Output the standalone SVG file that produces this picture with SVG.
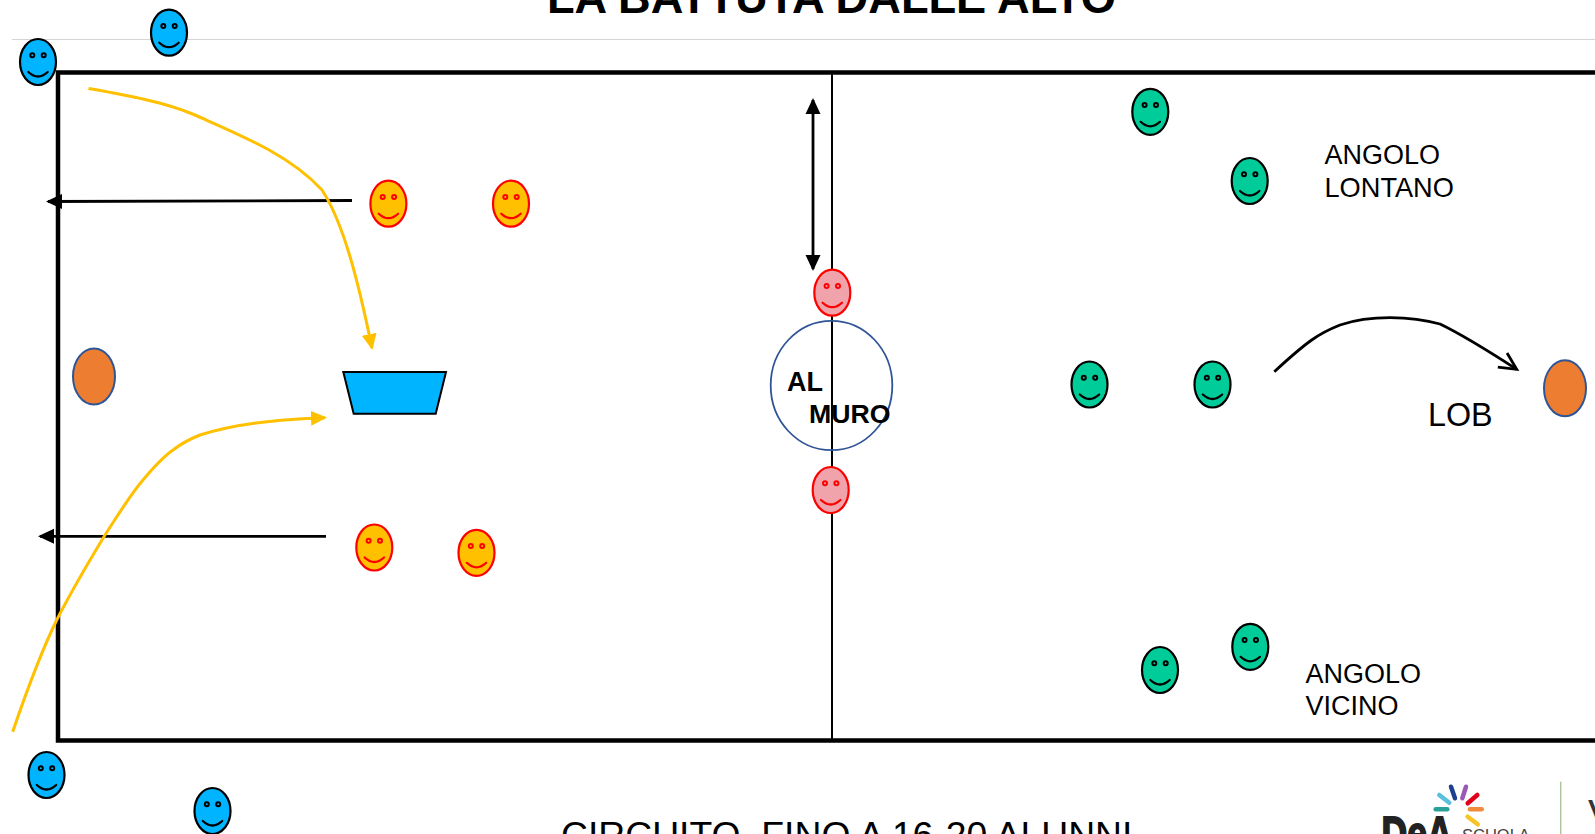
<svg xmlns="http://www.w3.org/2000/svg" width="1595" height="834" viewBox="0 0 1595 834">
<style>
text{font-family:"Liberation Sans",Arial,sans-serif;fill:#000}
.b{font-weight:700}
.lab{font-size:27px}
.face{stroke-width:2.2}
.eye{stroke-width:2}
.smile{fill:none;stroke-width:2.2;stroke-linecap:round}
.blue{fill:#00B4FF;stroke:#000}
.gold{fill:#FFC000;stroke:#F00}
.pink{fill:#F0A3AA;stroke:#F00}
.green{fill:#00CC99;stroke:#000}
.ball{fill:#ED7D31;stroke:#2F5597;stroke-width:2}
.k{fill:none;stroke:#000;stroke-width:2.8}
.y{fill:none;stroke:#FFC000;stroke-width:3}
.ray{fill:none;stroke-width:4.5;stroke-linecap:round}
</style>
<defs>
<g id="smiley">
<ellipse class="face" cx="0" cy="0" rx="18" ry="23"/>
<circle class="eye" cx="-5.7" cy="-6.8" r="2"/>
<circle class="eye" cx="5.7" cy="-6.8" r="2"/>
<path class="smile" d="M-9.7 10Q0 19 9.7 10"/>
</g>
<marker id="ak" markerUnits="userSpaceOnUse" markerWidth="18" markerHeight="16" refX="14" refY="8" orient="auto-start-reverse"><path d="M0 .5L16 8L0 15.500Z" fill="#000"/></marker>
<marker id="ay" markerUnits="userSpaceOnUse" markerWidth="18" markerHeight="16" refX="14" refY="8" orient="auto"><path d="M0 .5L16 8L0 15.500Z" fill="#FFC000"/></marker>
<marker id="ao" markerUnits="userSpaceOnUse" markerWidth="26" markerHeight="26" refX="21" refY="13" orient="auto"><path d="M4 4.500L21 13L4 21.500" fill="none" stroke="#000" stroke-width="2.8"/></marker>
</defs>
<g id="header">
<line x1="12" y1="39.500" x2="1595" y2="39.500" stroke="#D4D4D4" stroke-width="1"/>
<text class="b" x="547" y="12.500" font-size="45.200">LA BATTUTA DALLE ALTO</text>
</g>
<g id="court">
<path d="M1595 72.500H58V740.500H1595" fill="none" stroke="#000" stroke-width="4.500"/>
<line x1="832" y1="72" x2="832" y2="740" stroke="#000" stroke-width="2"/>
</g>
<g id="al-muro">
<ellipse cx="831.500" cy="385.500" rx="60.800" ry="64.700" fill="none" stroke="#2F5597" stroke-width="1.800"/>
<text class="b" x="787" y="391" font-size="27">AL</text>
<text class="b" x="809" y="423" font-size="26.700">MURO</text>
</g>
<g id="cesto"><path d="M343.300 372H446L435.700 413.700H353.700Z" fill="#00B4FF" stroke="#000" stroke-width="2"/></g>
<g id="connectors">
<path class="k" d="M352 200.500L48 201.500" marker-end="url(#ak)"/>
<path class="k" d="M326 536.300H40" marker-end="url(#ak)"/>
<path class="k" d="M813 100V269" marker-start="url(#ak)" marker-end="url(#ak)"/>
<path class="y" d="M88.500 88.500C125 95 165 102 195 115C240 135 290 155 322 190C345 225 360 290 372 348" marker-end="url(#ay)"/>
<path class="y" d="M12.700 731.700C27 690 42 650 56.700 620C72 590 88 563 105 535C118 515 130 495 143 480C153 468 163 457 173 450C182 443 190 439 200 435C222 428 245 424 267 421.700C285 419.500 305 418.500 325 417.700" marker-end="url(#ay)"/>
<path class="k" d="M1274.300 371.700C1287 360 1299 349 1311.700 340C1320 334 1330 329 1340 325C1355 320 1372 317.700 1390 317.700C1408 318 1425 320 1440 324C1465 336 1490 352 1516.700 369.300" marker-end="url(#ao)"/>
</g>
<g id="blue-1" class="blue"><use href="#smiley" x="38" y="62"/></g>
<g id="blue-2" class="blue"><use href="#smiley" x="169" y="32.700"/></g>
<g id="blue-3" class="blue"><use href="#smiley" x="46.500" y="775"/></g>
<g id="blue-4" class="blue"><use href="#smiley" x="212.500" y="811"/></g>
<g id="gold-1" class="gold"><use href="#smiley" x="388.400" y="203.700"/></g>
<g id="gold-2" class="gold"><use href="#smiley" x="511" y="203.700"/></g>
<g id="gold-3" class="gold"><use href="#smiley" x="374.300" y="547.500"/></g>
<g id="gold-4" class="gold"><use href="#smiley" x="476.500" y="552.800"/></g>
<g id="pink-1" class="pink"><use href="#smiley" x="832.300" y="292.700"/></g>
<g id="pink-2" class="pink"><use href="#smiley" x="830.700" y="490"/></g>
<g id="green-1" class="green"><use href="#smiley" x="1150.300" y="111.800"/></g>
<g id="green-2" class="green"><use href="#smiley" x="1249.700" y="181"/></g>
<g id="green-3" class="green"><use href="#smiley" x="1089.500" y="384.500"/></g>
<g id="green-4" class="green"><use href="#smiley" x="1212.500" y="384.500"/></g>
<g id="green-5" class="green"><use href="#smiley" x="1250.300" y="646.800"/></g>
<g id="green-6" class="green"><use href="#smiley" x="1160" y="670"/></g>
<g id="ball-1"><ellipse class="ball" cx="94" cy="376.500" rx="21" ry="28"/></g>
<g id="ball-2"><ellipse class="ball" cx="1565" cy="388.300" rx="21" ry="28"/></g>
<g id="label-lontano"><text class="lab" x="1324.500" y="164">ANGOLO</text><text class="lab" x="1324.500" y="196.500" style="font-size:27.2px">LONTANO</text></g>
<g id="label-vicino"><text class="lab" x="1305.500" y="683">ANGOLO</text><text class="lab" x="1305.500" y="715">VICINO</text></g>
<g id="label-lob"><text x="1428" y="426" font-size="32.300">LOB</text></g>
<g id="footer"><text x="561" y="848" font-size="37.300">CIRCUITO, FINO A 16-20 ALUNNI</text></g>
<g id="logo">
<path class="ray" stroke="#1F3F8F" d="M1451 786.700L1455 798.300"/>
<path class="ray" stroke="#9B59B6" d="M1466 786.700L1462.300 798.300"/>
<path class="ray" stroke="#E2001A" d="M1477.300 795L1467.700 803.300"/>
<path class="ray" stroke="#F08A3C" d="M1470 809.300H1481.700"/>
<path class="ray" stroke="#F7C325" d="M1467.700 816.700L1477.700 824.300"/>
<path class="ray" stroke="#2AA198" d="M1435.700 809.300H1447.300"/>
<path class="ray" stroke="#5BC0DE" d="M1439.300 795L1449.300 802.700"/>
<text class="b" x="1381.500" y="850" font-size="48" textLength="71" lengthAdjust="spacingAndGlyphs" style="fill:#222;stroke:#222;stroke-width:2">DeA</text>
<text x="1462" y="841" font-size="16.500" style="fill:#444">SCUOLA</text>
<line x1="1560.700" y1="781.700" x2="1560.700" y2="834" stroke="#A9C79A" stroke-width="1.500"/>
<text x="1588" y="828" font-size="40" style="fill:#333">V</text>
</g>
</svg>
